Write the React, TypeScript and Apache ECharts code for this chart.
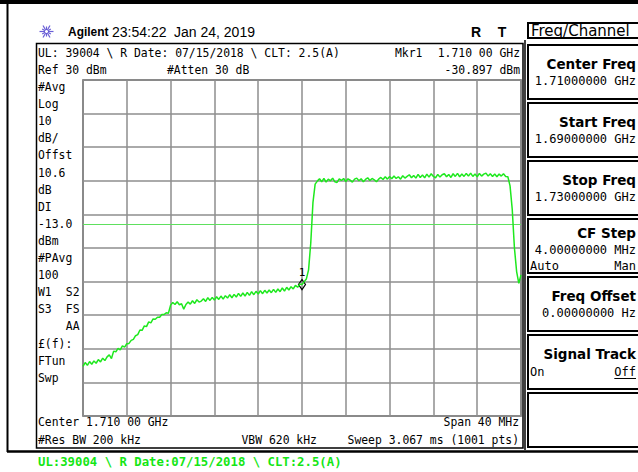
import React, { useEffect, useRef } from "react";
import * as echarts from "echarts";

// ---- data ----
const FREQ_START_MHZ = 1690;
const FREQ_STEP_MHZ = 0.2;
const X_MIN = 1690;
const X_MAX = 1730;
const X_DIV = 4;
const Y_MIN = -70;
const Y_MAX = 30;
const Y_DIV = 10;
const DISPLAY_LINE_DBM = -13;
const MARKER_FREQ = 1710;
const MARKER_DBM = -30.897;

const TRACE_DBM = [
  -55.2, -54.1, -54.9, -53.8, -54.6, -53.6, -54.3, -53.2, -53.9, -52.8,
  -53.5, -52.4, -51.8, -52.9, -50.7, -50.9, -49.9, -50.3, -49.1, -49.5,
  -48.5, -48.4, -47.5, -47.2, -46.1, -45.8, -44.4, -44.5, -43.2, -43.4,
  -42.0, -42.3, -41.1, -41.2, -40.6, -40.6, -39.8, -39.8, -39.3, -39.4,
  -37.0, -36.2, -36.8, -36.0, -36.9, -36.6, -38.2, -36.8, -36.1, -36.7,
  -35.7, -36.5, -35.4, -36.1, -35.8, -35.1, -35.9, -34.8, -35.6, -34.7,
  -35.5, -34.5, -35.3, -34.3, -35.2, -34.2, -34.9, -33.9, -34.8, -33.8,
  -34.6, -33.5, -34.4, -33.4, -34.3, -33.2, -34.1, -33.0, -33.9, -32.9,
  -33.7, -32.7, -33.6, -32.6, -33.4, -32.5, -33.3, -32.3, -33.2, -32.2,
  -33.0, -31.9, -32.8, -31.7, -32.5, -31.5, -32.2, -31.1, -31.7, -30.7,
  -30.9, -30.0, -29.2, -26.5, -18.5, -6.5, -1.0, -0.1, 0.6, -0.3,
  0.7, -0.4, 0.5, 0.0, 0.8, -0.3, -0.5, 0.6, 0.1, 0.7,
  -0.2, 0.6, 0.2, -0.4, 0.5, 0.8, 0.0, 0.6, -0.3, 0.4,
  0.9, 0.1, 0.7, 0.3, -0.3, 0.5, 1.0, 0.4, 1.2, 0.5,
  1.3, 0.6, 1.4, 0.7, 1.2, 0.5, 1.5, 0.8, 1.3, 1.8,
  0.9, 1.6, 0.8, 1.9, 1.0, 1.7, 0.9, 2.0, 1.1, 2.1,
  1.3, 0.9, 1.9, 1.1, 1.8, 2.1, 1.2, 1.9, 1.0, 2.1,
  1.3, 2.2, 1.2, 2.0, 1.3, 2.2, 1.4, 2.3, 1.3, 2.0,
  1.2, 2.2, 1.4, 2.0, 2.3, 1.4, 2.1, 1.3, 2.0, 1.2,
  2.0, 1.4, 2.1, 1.3, 1.2, -1.5, -8.5, -20.0, -27.0, -30.5,
  -28.0,
];

const HEADER_TEXT = "UL: 39004 \\ R Date: 07/15/2018 \\ CLT: 2.5(A)";
const FOOTER_TEXT = "UL:39004 \\ R Date:07/15/2018 \\ CLT:2.5(A)";
const LEFT_ANNOT = [
  "#Avg", "Log", "10", "dB/", "Offst", "10.6", "dB", "DI", "-13.0", "dBm",
  "#PAvg", "100", "W1|S2", "S3|FS", "|AA", "£(f):", "FTun", "Swp",
];
const SOFTKEYS = [
  { title: "Center Freq", value: "1.71000000 GHz" },
  { title: "Start Freq", value: "1.69000000 GHz" },
  { title: "Stop Freq", value: "1.73000000 GHz" },
  { title: "CF Step", value: "4.00000000 MHz", left: "Auto", right: "Man", under: "left" },
  { title: "Freq Offset", value: "0.00000000|Hz" },
  { title: "Signal Track", left: "On", right: "Off", under: "right" },
  { title: "" },
];

const MONO = "DejaVu Sans Mono";

function txt(text: string, x: number, y: number, o: any = {}) {
  return {
    type: "text",
    x,
    y,
    scaleX: o.sx ?? 1,
    z: 20,
    silent: true,
    style: {
      text,
      x: 0,
      y: 0,
      fill: o.color ?? "#000",
      fontSize: o.size ?? 11.4,
      fontFamily: o.family ?? MONO,
      fontWeight: o.weight ?? "normal",
      align: o.align ?? "left",
      verticalAlign: "middle",
    },
  };
}
function line(x1: number, y1: number, x2: number, y2: number, stroke = "#000", lineWidth = 1) {
  return { type: "line", z: 15, silent: true, shape: { x1, y1, x2, y2 }, style: { stroke, lineWidth } };
}
function rect(x: number, y: number, w: number, h: number, lineWidth = 2, stroke = "#000") {
  return { type: "rect", z: 5, silent: true, shape: { x, y, width: w, height: h }, style: { fill: "rgba(0,0,0,0)", stroke, lineWidth } };
}

function buildGraphics() {
  const g: any[] = [];
  // outer frame
  g.push(line(0, 2, 640, 2, "#000", 4));
  g.push(line(7.5, 0, 7.5, 452, "#000", 2));
  g.push(line(7, 451.5, 640, 451.5, "#000", 2.5));
  // display box
  g.push(rect(36.5, 43.5, 486.5, 404.5, 1.5));
  // softkey panel separator
  g.push(line(525, 40, 525, 450, "#000", 1.5));
  // Agilent logo
  const cx = 46.5, cy = 31.5;
  for (let k = 0; k < 12; k++) {
    const a = (k * Math.PI) / 6;
    const r2 = k % 2 === 0 ? 7 : 5;
    g.push(line(cx + Math.cos(a) * 1.5, cy + Math.sin(a) * 1.5, cx + Math.cos(a) * r2, cy + Math.sin(a) * r2, "#6a5fd6", 1.2));
  }
  g.push(txt("Agilent", 68, 31.5, { family: "Liberation Sans", weight: "bold", size: 13, sx: 0.92 }));
  g.push(txt("23:54:22", 112, 31.5, { family: "Liberation Sans", size: 14 }));
  g.push(txt("Jan 24, 2019", 174, 31.5, { family: "Liberation Sans", size: 14 }));
  g.push(txt("R", 476, 31.5, { family: "Liberation Sans", weight: "bold", size: 14, align: "center" }));
  g.push(txt("T", 502, 31.5, { family: "Liberation Sans", weight: "bold", size: 14, align: "center" }));
  // Freq/Channel title
  g.push(rect(528, 23, 112, 15, 2));
  g.push(txt("Freq/Channel", 531, 31, { family: "DejaVu Sans", size: 15 }));
  // header texts
  g.push(txt(HEADER_TEXT, 38, 53));
  g.push(txt("Mkr1", 395, 53));
  g.push(txt("1.710 00 GHz", 520, 53, { align: "right" }));
  g.push(txt("Ref 30 dBm", 38, 70));
  g.push(txt("#Atten 30 dB", 167, 70));
  g.push(txt("-30.897 dBm", 520, 70, { align: "right" }));
  // left annotations
  LEFT_ANNOT.forEach((s, i) => {
    const y = 87 + i * 17.1;
    const parts = s.split("|");
    if (parts.length === 1) g.push(txt(s, 38, y));
    else {
      if (parts[0]) g.push(txt(parts[0], 38, y));
      g.push(txt(parts[1], 79.5, y, { align: "right" }));
    }
  });
  // bottom annotations
  g.push(txt("Center 1.710 00 GHz", 38, 422));
  g.push(txt("Span 40 MHz", 519, 422, { align: "right" }));
  g.push(txt("#Res BW 200 kHz", 38, 440));
  g.push(txt("VBW 620 kHz", 241.5, 440));
  g.push(txt("Sweep 3.067 ms (1001 pts)", 519, 440, { align: "right" }));
  // footer
  g.push(txt(FOOTER_TEXT, 38, 461.5, { color: "#14e614", weight: "bold", size: 12.3 }));
  // softkeys
  SOFTKEYS.forEach((k: any, i) => {
    const top = 45 + i * 58;
    g.push(rect(528, top, 112, 54, 2));
    const three = !!k.value && !!k.left;
    if (k.title) {
      g.push(txt(k.title, 636, top + (three ? 14 : 19), { family: "DejaVu Sans", weight: "bold", size: 13.5, align: "right" }));
    }
    if (k.value) {
      const parts = k.value.split("|");
      if (parts.length === 2) {
        g.push(txt(parts[0], 636 - 3 * 7.22, top + 36, { size: 12, align: "right" }));
        g.push(txt(parts[1], 636, top + 36, { size: 12, align: "right" }));
      } else {
        g.push(txt(k.value, 636, top + (three ? 31 : 36), { size: 12, align: "right" }));
      }
    }
    if (k.left) {
      const yy = top + (three ? 47 : 37);
      g.push(txt(k.left, 530, yy, { size: 12 }));
      g.push(txt(k.right, 636, yy, { size: 12, align: "right" }));
      if (k.under === "left") g.push(line(530, yy + 6.5, 530 + k.left.length * 7.22, yy + 6.5, "#000", 1));
      else g.push(line(636 - k.right.length * 7.22, yy + 6.5, 636, yy + 6.5, "#000", 1));
    }
  });
  return g;
}

export default function App() {
  const ref = useRef<HTMLDivElement>(null);
  useEffect(() => {
    if (!ref.current) return;
    const chart = echarts.init(ref.current, undefined, { renderer: "svg" });
    const data = TRACE_DBM.map((v, i) => [+(FREQ_START_MHZ + i * FREQ_STEP_MHZ).toFixed(1), v]);
    chart.setOption({
      animation: false,
      backgroundColor: "#ffffff",
      grid: {
        left: 83,
        top: 80,
        width: 438,
        height: 336,
        show: true,
        borderColor: "#555555",
        borderWidth: 1.5,
        backgroundColor: "rgba(0,0,0,0)",
      },
      xAxis: {
        type: "value",
        min: X_MIN,
        max: X_MAX,
        interval: X_DIV,
        axisLine: { show: false },
        axisTick: { show: false },
        axisLabel: { show: false },
        splitLine: { show: true, lineStyle: { color: "#8e8e8e", width: 1.5 } },
      },
      yAxis: {
        type: "value",
        min: Y_MIN,
        max: Y_MAX,
        interval: Y_DIV,
        axisLine: { show: false },
        axisTick: { show: false },
        axisLabel: { show: false },
        splitLine: { show: true, lineStyle: { color: "#8e8e8e", width: 1.5 } },
      },
      series: [
        {
          type: "line",
          data,
          showSymbol: false,
          symbol: "none",
          lineStyle: { color: "#1ee81e", width: 1.5 },
          z: 5,
          markLine: {
            silent: true,
            symbol: ["none", "none"],
            label: { show: false },
            lineStyle: { color: "#5ee05e", width: 1, type: "solid" },
            data: [{ yAxis: DISPLAY_LINE_DBM }],
          },
          markPoint: {
            silent: true,
            symbol: "diamond",
            symbolSize: [7, 10],
            itemStyle: { color: "rgba(0,0,0,0)", borderColor: "#000", borderWidth: 1.2 },
            label: {
              show: true,
              formatter: "1",
              position: "top",
              distance: 1,
              color: "#000",
              fontSize: 11,
              fontFamily: MONO,
            },
            data: [{ coord: [MARKER_FREQ, MARKER_DBM] }],
          },
        },
      ],
      graphic: buildGraphics(),
    });
    return () => chart.dispose();
  }, []);
  return (
    <div
      ref={ref}
      style={{ position: "absolute", left: 0, top: 0, width: 638, height: 472, background: "#fff" }}
    />
  );
}
